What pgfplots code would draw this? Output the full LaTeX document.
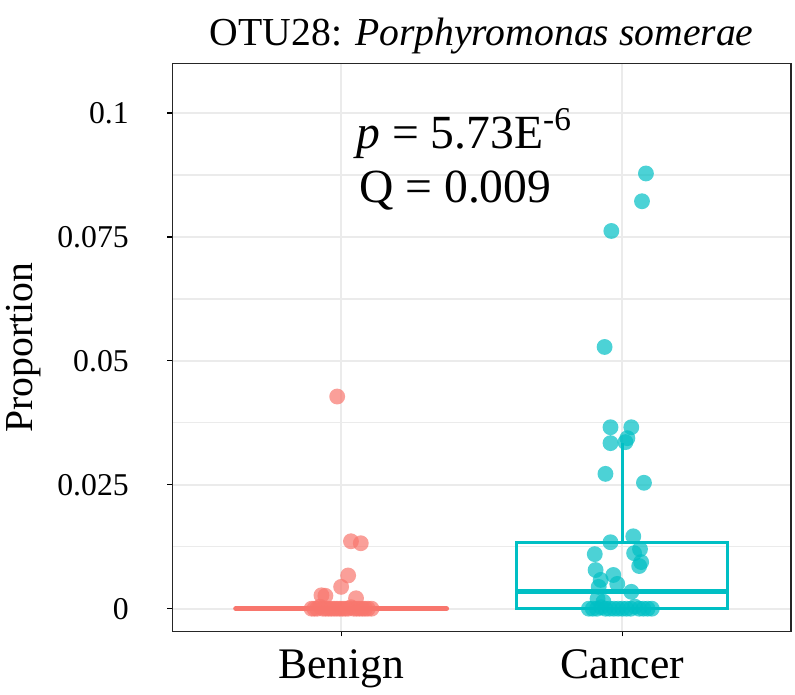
\documentclass[border=0pt]{standalone}
\usepackage{fontspec}
\setmainfont{Liberation Serif}
\usepackage{pgfplots}
\usepackage{pgfplotstable}
\pgfplotsset{compat=1.18}

\definecolor{benign}{HTML}{F8766D}
\definecolor{cancer}{HTML}{00BFC4}
\definecolor{gridc}{HTML}{EBEBEB}

% jittered points: x = group position + jitter, y = proportion
\pgfplotstableread{
x y
0.986 0.0428
1.035 0.0136
1.070 0.0132
1.025 0.0067
1.000 0.0044
0.930 0.0027
0.944 0.0026
1.053 0.0021
0.895 0
0.905 0
0.915 0
0.925 0.0004
0.935 0
0.945 0
0.955 0
0.965 0
0.975 0
0.985 0
0.995 0
1.005 0
1.015 0
1.025 0
1.035 0.0003
1.045 0
1.055 0
1.065 0
1.075 0
1.085 0
1.095 0
1.108 0
}\benigntab

\pgfplotstableread{
x y
2.084 0.0878
2.070 0.0822
1.961 0.0762
1.937 0.0528
1.958 0.0366
2.032 0.0366
1.958 0.0334
2.018 0.0344
2.011 0.0336
1.940 0.0272
2.077 0.0254
1.958 0.0134
2.039 0.0146
1.902 0.0110
2.063 0.0120
2.042 0.0112
2.067 0.0094
2.060 0.0086
1.905 0.0078
1.968 0.0068
1.923 0.0058
1.982 0.0050
1.916 0.0044
2.032 0.0034
1.912 0.0020
1.933 0.0014
1.881 0
1.895 0
1.910 0
1.925 0.0003
1.940 0
1.955 0
1.970 0
1.985 0
2.000 0
2.015 0
2.030 0
2.045 0.0004
2.060 0
2.075 0
2.090 0
2.105 0
}\cancertab

\begin{document}
\begin{tikzpicture}
\begin{axis}[
    name=ax, at={(0,0)}, anchor=south west,
    scale only axis,
    width=312pt, height=286.5pt,
    xmin=0.4, xmax=2.6,
    ymin=-0.0046, ymax=0.110,
    xtick={1,2}, xticklabels={Benign,Cancer},
    ytick={0,0.025,0.05,0.075,0.1},
    yticklabels={0,0.025,0.05,0.075,0.1},
    minor ytick={0.0125,0.0375,0.0625,0.0875},
    xmajorgrids, ymajorgrids, yminorgrids,
    major grid style={gridc, line width=1pt},
    minor grid style={gridc, line width=0.7pt},
    axis line style={black!85, line width=0.9pt},
    tick align=outside, tick pos=left,
    major tick length=2.5pt, minor tick length=0pt,
    tick style={black, line width=0.6pt},
    xticklabel style={font=\fontsize{22}{26}\selectfont, yshift=-3pt},
    yticklabel style={font=\fontsize{16}{19}\selectfont, xshift=-16pt},
    ylabel={Proportion},
    ylabel style={font=\fontsize{20}{24}\selectfont, at={(axis description cs:-0.24,0.5)}, anchor=center},
    title={OTU28: \textit{Porphyromonas somerae}},
    title style={font=\fontsize{20}{24}\selectfont, at={(axis description cs:0.5,1)}, anchor=base, yshift=3pt},
]

% boxes (Benign collapses to a line at zero)
\addplot[benign, line width=2.5pt, line cap=round] coordinates {(0.625,0) (1.375,0)};
\addplot[cancer, line width=1.5pt] coordinates {
    (1.625,0) (2.375,0) (2.375,0.0133) (1.625,0.0133) (1.625,0) (2,0)};
\addplot[cancer, line width=2.5pt] coordinates {(1.625,0.0034) (2.375,0.0034)};
\addplot[cancer, line width=1.5pt] coordinates {(2,0.0133) (2,0.0335)};

% jittered points
\addplot[only marks, mark=*, mark size=4pt,
    mark options={draw opacity=0, fill=benign, fill opacity=0.7}] table[x=x, y=y] {\benigntab};
\addplot[only marks, mark=*, mark size=4pt,
    mark options={draw opacity=0, fill=cancer, fill opacity=0.7}] table[x=x, y=y] {\cancertab};

% test result
\node[anchor=base west, font=\fontsize{24}{28}\selectfont, inner sep=0pt]
    at (axis cs:1.053,0.0928) {\textit{p} = 5.73E\textsuperscript{-6}};
\node[anchor=base west, font=\fontsize{24}{28}\selectfont, inner sep=0pt]
    at (axis cs:1.063,0.0820) {Q = 0.009};
\end{axis}
\path[use as bounding box] (-83.5pt,-30.5pt) rectangle (314pt,318.5pt);
\end{tikzpicture}
\end{document}
